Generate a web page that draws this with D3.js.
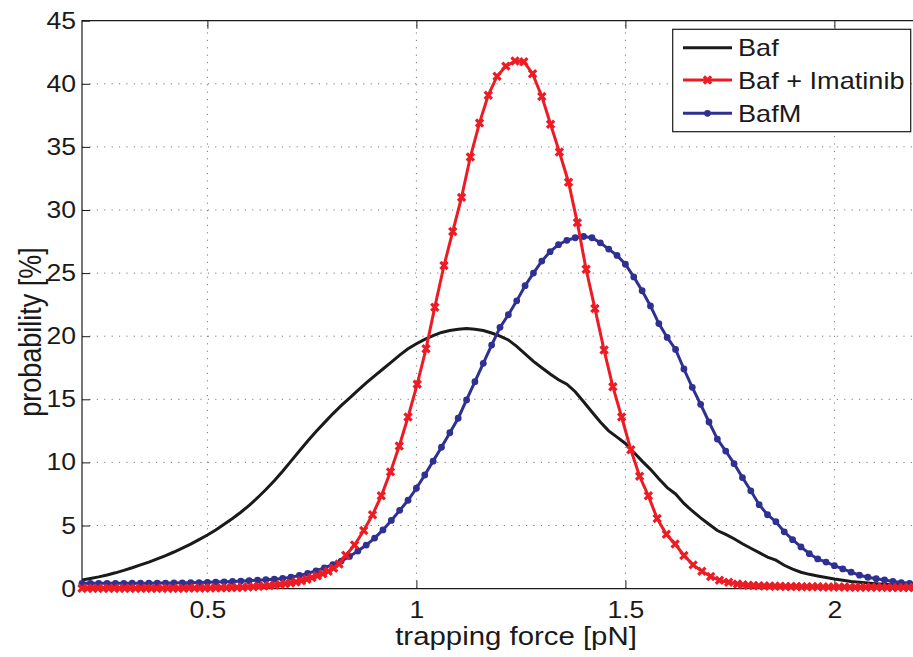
<!DOCTYPE html>
<html>
<head>
<meta charset="utf-8">
<script src="https://cdn.jsdelivr.net/npm/d3@7"></script>
<style>
  body { margin: 0; background: #fff; }
  svg { display: block; }
  text { font-family: "Liberation Sans", Arial, Helvetica, sans-serif; fill: #1a1a1a; }
</style>
</head>
<body>
<svg id="chart" width="913" height="657"></svg>
<script>
// ---- Baf: smooth probability curve (no markers) ----
const bafForce = [0.20,0.22,0.24,0.26,0.28,0.30,0.32,0.34,0.36,0.38,0.40,0.42,0.44,0.46,0.48,0.50,0.52,0.54,0.56,0.58,
  0.60,0.62,0.64,0.66,0.68,0.70,0.72,0.74,0.76,0.78,0.80,0.82,0.84,0.86,0.88,0.90,0.92,0.94,0.96,0.98,
  1.00,1.02,1.04,1.06,1.08,1.10,1.12,1.14,1.16,1.18,1.20,1.22,1.24,1.26,1.28,1.30,1.32,1.34,1.36,1.38,
  1.40,1.42,1.44,1.46,1.48,1.50,1.52,1.54,1.56,1.58,1.60,1.62,1.64,1.66,1.68,1.70,1.72,1.74,1.76,1.78,
  1.80,1.82,1.84,1.86,1.88,1.90,1.92,1.94,1.96,1.98,2.00,2.02,2.04,2.06,2.08,2.10,2.12,2.14,2.16,2.18,2.20];
const bafProb = [0.68,0.80,0.93,1.08,1.25,1.44,1.65,1.88,2.10,2.36,2.62,2.90,3.20,3.52,3.88,4.25,4.65,5.10,5.55,6.05,
  6.60,7.20,7.85,8.55,9.30,10.10,10.90,11.70,12.45,13.15,13.85,14.50,15.10,15.70,16.30,16.85,17.40,17.95,18.50,19.00,
  19.40,19.75,20.05,20.30,20.45,20.55,20.60,20.55,20.45,20.25,20.00,19.70,19.20,18.60,18.00,17.50,17.00,16.55,16.20,15.60,
  14.80,14.00,13.20,12.50,12.00,11.50,10.80,10.10,9.45,8.70,8.00,7.50,6.75,6.15,5.60,5.10,4.60,4.30,3.95,3.55,
  3.20,2.85,2.50,2.25,1.85,1.55,1.30,1.13,1.00,0.88,0.76,0.66,0.57,0.50,0.44,0.39,0.35,0.33,0.31,0.30,0.29];

// ---- Baf + Imatinib: 'x' markers, finer sampling in the tails ----
const imaForce = [0.200,0.213,0.226,0.238,0.251,0.264,0.277,0.290,0.302,0.315,0.328,0.341,0.354,0.366,0.379,0.392,
  0.405,0.418,0.430,0.443,0.456,0.469,0.482,0.494,0.507,0.520,0.533,0.546,0.558,0.571,0.584,0.597,0.610,0.622,
  0.635,0.648,0.661,0.674,0.686,0.699,0.712,0.725,0.738,0.750,0.763,0.776,0.789,0.802,0.815,
  0.831,0.852,0.874,0.895,0.916,0.938,0.959,0.980,1.002,1.023,1.044,1.066,1.087,1.108,1.129,1.151,1.172,1.193,
  1.214,1.236,1.257,1.278,1.300,1.321,1.342,1.364,1.385,1.406,1.427,1.449,1.470,1.491,1.513,1.534,1.555,1.576,
  1.598,1.619,1.640,1.662,1.683,1.704,1.725,1.747,1.768,
  1.781,1.794,1.806,1.819,1.832,1.845,1.858,1.870,1.883,1.896,1.909,1.922,1.934,1.947,1.960,1.973,1.986,1.998,
  2.011,2.024,2.037,2.050,2.062,2.075,2.088,2.101,2.114,2.126,2.139,2.152,2.165,2.178,2.190,2.203];
const imaProb = [0.02,0.02,0.02,0.02,0.02,0.02,0.02,0.02,0.02,0.02,0.02,0.02,0.02,0.02,0.02,0.02,
  0.03,0.03,0.03,0.03,0.04,0.04,0.04,0.05,0.05,0.06,0.06,0.07,0.08,0.09,0.10,0.12,0.15,0.18,
  0.21,0.25,0.29,0.33,0.39,0.45,0.53,0.62,0.74,0.88,1.02,1.18,1.38,1.62,1.95,
  2.65,3.45,4.60,5.85,7.35,9.25,11.30,13.60,16.20,19.00,22.30,25.60,28.30,31.00,34.20,36.90,39.10,40.60,
  41.40,41.80,41.75,40.80,39.00,36.80,34.60,32.20,29.00,25.30,22.20,18.90,16.00,13.60,11.00,8.90,7.35,5.55,
  4.30,3.53,2.63,1.88,1.38,0.96,0.66,0.50,0.36,
  0.30,0.27,0.25,0.23,0.21,0.20,0.19,0.18,0.17,0.16,0.16,0.15,0.15,0.14,0.14,0.13,0.13,0.12,
  0.12,0.12,0.11,0.11,0.11,0.10,0.10,0.10,0.10,0.09,0.09,0.09,0.09,0.08,0.08,0.08];

// ---- BafM: dot markers ----
const bafmForce = bafForce;
const bafmProb = [0.42,0.42,0.42,0.42,0.42,0.42,0.43,0.43,0.43,0.44,0.44,0.45,0.46,0.47,0.48,0.50,0.52,0.54,0.57,0.60,
  0.63,0.66,0.70,0.75,0.81,0.91,1.04,1.21,1.41,1.65,1.90,2.18,2.55,2.98,3.45,4.00,4.65,5.40,6.20,7.00,
  7.95,9.00,10.10,11.20,12.35,13.50,14.95,16.40,17.85,19.30,20.70,21.70,22.80,24.00,25.00,25.95,26.70,27.25,27.60,27.80,
  27.90,27.80,27.40,26.90,26.40,25.70,24.70,23.60,22.40,21.00,19.90,18.95,17.40,15.95,14.60,13.20,11.85,10.90,9.90,8.80,
  7.75,6.65,5.85,5.30,4.50,3.88,3.30,2.77,2.35,2.10,1.82,1.56,1.30,1.06,0.90,0.78,0.68,0.57,0.48,0.42,0.38];

const xTicks = [0.5, 1, 1.5, 2];
const yTicks = [0, 5, 10, 15, 20, 25, 30, 35, 40, 45];
const seriesNames = ["Baf", "Baf + Imatinib", "BafM"];
const xLabel = "trapping force [pN]";
const yLabel = "probability [%]";

const colBlack = "#1a1a1a", colRed = "#ed1c24", colBlue = "#2e3192";
const STRETCH = 1.13;   // glyphs are drawn slightly wide

const svg = d3.select("#chart");
const L = 82, T = 20.7, R = 918, B = 588.6;
const x = d3.scaleLinear().domain([0.2, 2.2]).range([L, R]);
const y = d3.scaleLinear().domain([0, 45]).range([B, T]);

// dotted grid
const grid = svg.append("g").attr("stroke", "#7a7a7a").attr("stroke-width", 1)
  .attr("stroke-dasharray", "1.2,6.2");
grid.selectAll("line.v").data(xTicks).join("line").attr("class", "v")
  .attr("x1", d => x(d)).attr("x2", d => x(d)).attr("y1", B).attr("y2", T);
grid.selectAll("line.h").data(yTicks.filter(d => d > 0 && d < 45)).join("line").attr("class", "h")
  .attr("y1", d => y(d)).attr("y2", d => y(d)).attr("x1", L).attr("x2", R);

function stretchTexts(sel) {
  sel.selectAll("text").each(function () {
    const t = d3.select(this);
    const tx = +t.attr("x") || 0;
    t.attr("x", tx / STRETCH).attr("transform", `scale(${STRETCH},1)`);
  });
}

// axes (ticks point inward)
const gx = svg.append("g").attr("transform", `translate(0,${B})`)
  .call(d3.axisBottom(x).tickValues(xTicks).tickFormat(d3.format("~g"))
    .tickSizeInner(-8).tickSizeOuter(0).tickPadding(13));
const gy = svg.append("g").attr("transform", `translate(${L},0)`)
  .call(d3.axisLeft(y).tickValues(yTicks).tickSizeInner(-8).tickSizeOuter(0).tickPadding(6));
const gt = svg.append("g").attr("transform", `translate(0,${T})`)
  .call(d3.axisTop(x).tickValues(xTicks).tickFormat("").tickSizeInner(-8).tickSizeOuter(0));
[gx, gy, gt].forEach(g => {
  g.select(".domain").remove();
  g.selectAll(".tick line").attr("stroke", colBlack);
  g.selectAll("text").attr("font-size", 23.5).attr("fill", colBlack)
    .attr("font-family", "\"Liberation Sans\", Arial, sans-serif");
});
stretchTexts(gx);
stretchTexts(gy);

// axes box
svg.append("path").attr("fill", "none").attr("stroke", colBlack).attr("stroke-width", 1.2)
  .attr("d", `M${R},${T}H${L}V${B}H${R}`);

// curves
const clipId = "plotclip";
svg.append("clipPath").attr("id", clipId).append("rect")
  .attr("x", L).attr("y", 0).attr("width", R - L).attr("height", 657);

const line = d3.line().x(d => x(d[0])).y(d => y(d[1]));
const baf = bafForce.map((f, i) => [f, bafProb[i]]);
const ima = imaForce.map((f, i) => [f, imaProb[i]]);
const bafm = bafmForce.map((f, i) => [f, bafmProb[i]]);

const plot = svg.append("g");
plot.append("path").datum(baf).attr("clip-path", `url(#${clipId})`)
  .attr("fill", "none").attr("stroke", colBlack).attr("stroke-width", 3).attr("d", line);

plot.append("path").datum(bafm).attr("clip-path", `url(#${clipId})`)
  .attr("fill", "none").attr("stroke", colBlue).attr("stroke-width", 3).attr("d", line);
plot.append("g").selectAll("circle").data(bafm).join("circle")
  .attr("cx", d => x(d[0])).attr("cy", d => y(d[1])).attr("r", 3.4).attr("fill", colBlue);

plot.append("path").datum(ima).attr("clip-path", `url(#${clipId})`)
  .attr("fill", "none").attr("stroke", colRed).attr("stroke-width", 3).attr("d", line);
const cross = "M-3.6,-3.6L3.6,3.6M-3.6,3.6L3.6,-3.6";
plot.append("g").selectAll("path").data(ima).join("path")
  .attr("transform", d => `translate(${x(d[0])},${y(d[1])})`)
  .attr("d", cross).attr("stroke", colRed).attr("stroke-width", 3.2).attr("fill", "none");

// axis labels
svg.append("text").attr("transform", `translate(516,645) scale(${STRETCH},1)`)
  .attr("text-anchor", "middle").attr("font-size", 26).text(xLabel);
svg.append("text").attr("transform", `translate(41,332) scale(${STRETCH},1) rotate(-90)`)
  .attr("text-anchor", "middle").attr("font-size", 27).text(yLabel);

// legend
const lg = svg.append("g");
lg.append("rect").attr("x", 672.7).attr("y", 29.3).attr("width", 238).attr("height", 102.4)
  .attr("fill", "#fff").attr("stroke", colBlack).attr("stroke-width", 1.2);
const rows = [47.7, 80, 113.3];
const cols = [colBlack, colRed, colBlue];
seriesNames.forEach((name, i) => {
  const yy = rows[i];
  lg.append("line").attr("x1", 683).attr("x2", 732).attr("y1", yy).attr("y2", yy)
    .attr("stroke", cols[i]).attr("stroke-width", 3);
  if (i === 1) lg.append("path").attr("transform", `translate(707.5,${yy})`).attr("d", cross)
    .attr("stroke", colRed).attr("stroke-width", 3.2);
  if (i === 2) lg.append("circle").attr("cx", 707.5).attr("cy", yy).attr("r", 3.4).attr("fill", colBlue);
  lg.append("text").attr("transform", `translate(738,${yy}) scale(${STRETCH},1)`)
    .attr("dy", "0.36em").attr("font-size", 24).text(name);
});
</script>
</body>
</html>
